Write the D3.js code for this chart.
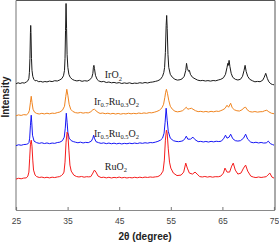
<!DOCTYPE html>
<html>
<head>
<meta charset="utf-8">
<script src="https://cdn.jsdelivr.net/npm/d3@7"></script>
<style>
  body { margin: 0; background: #fff; }
  svg { display: block; }
  .tick-label { font-family: "Liberation Sans", Arial, sans-serif; font-size: 8.5px; fill: #444; }
  .axis-title { font-family: "Liberation Sans", Arial, sans-serif; font-size: 10px; font-weight: bold; fill: #222; }
  .trace-label { font-family: "Liberation Serif", "Times New Roman", serif; font-size: 10px; fill: #222; }
</style>
</head>
<body>
<svg id="chart" width="279" height="243"></svg>
<script>
// x ticks (2 theta, degrees)
const xTicks = [25, 35, 45, 55, 65, 75];

// traces: [2theta, intensity a.u. incl. vertical offset]
const irO2 = [
  [25.0,126.5],[25.4,127.5],[25.8,126.8],[26.2,127.6],[26.6,127.2],[27.0,128.3],[27.3,129.5],[27.5,132],
  [27.6,138],[27.7,152],[27.8,178],[27.85,185],[27.9,178],[28.0,152],[28.1,140],[28.25,134],[28.45,131],[28.7,129.5],
  [29.0,129.8],[29.4,128.6],[29.8,128.9],[30.2,128.2],[30.6,128.8],[31.0,128.4],[31.5,129.2],[32.0,128.7],
  [32.5,129.6],[33.0,129.3],[33.5,130.4],[33.9,131.8],[34.2,134.5],[34.4,140],[34.5,152],[34.6,180],
  [34.7,207],[34.8,182],[34.9,156],[35.05,143],[35.25,136],[35.5,133],[35.9,131],[36.3,130],
  [36.8,129.4],[37.3,129.9],[37.8,129],[38.3,129.6],[38.8,129.2],[39.3,130.5],[39.7,133],[39.9,137],
  [40.0,143],[40.1,145],[40.2,142],[40.4,135],[40.7,131],[41.0,129.5],[41.5,128.5],[42.0,128.9],
  [42.5,127.8],[43.0,128.3],[43.5,127.5],[44.0,127.9],[44.5,127.2],[45.0,127.7],[45.5,126.8],[46.0,127.4],
  [46.5,126.9],[47.0,127.5],[47.5,126.7],[48.0,127.2],[48.5,126.9],[49.0,127.6],[49.5,127.1],[50.0,127.8],
  [50.5,127.3],[51.0,128.0],[51.5,128.3],[52.0,128.9],[52.5,129.6],[53.0,131],[53.4,134],[53.65,138],
  [53.8,143],[53.95,158],[54.1,185],[54.2,195],[54.3,182],[54.45,156],[54.6,143],[54.9,136],[55.3,133],
  [55.8,131],[56.3,130.2],[56.8,130.6],[57.2,131.5],[57.6,134],[57.9,140],[58.05,147],[58.2,142],
  [58.45,139],[58.6,140],[58.8,136],[59.2,133],[59.7,131.5],[60.2,130.2],[60.7,129.6],[61.2,129.9],
  [61.7,129.3],[62.2,129.7],[62.7,129.2],[63.2,129.8],[63.7,129.5],[64.2,130.3],[64.7,131],[65.2,132.5],
  [65.6,136],[65.9,143],[66.05,147],[66.15,145],[66.3,150],[66.45,144],[66.7,137],[67.0,133],
  [67.5,131],[68.0,130.3],[68.5,131],[68.9,134],[69.2,140],[69.4,145],[69.6,139],[69.9,134],
  [70.3,131],[70.8,129.6],[71.3,128.5],[71.8,128.9],[72.3,128.6],[72.8,130],[73.1,133],[73.4,137],
  [73.7,132],[74.0,128.5],[74.4,126.5],[74.7,125.8],[75.0,125.5]
];

const ir07Ru03O2 = [
  [25.0,94.5],[25.5,95.3],[26.0,94.8],[26.5,95.6],[27.0,95.3],[27.4,97],[27.6,100],[27.8,108],
  [27.95,114],[28.1,108],[28.3,101],[28.6,98],[29.0,96.8],[29.5,96.2],[30.0,96.9],[30.5,96.3],
  [31.0,97],[31.5,96.4],[32.0,97.1],[32.5,96.8],[33.0,97.6],[33.5,98.2],[34.0,100],[34.4,104],
  [34.65,114],[34.85,121],[35.05,115],[35.3,106],[35.6,101],[36.0,98.8],[36.5,97.6],[37.0,97.2],
  [37.5,97.8],[38.0,97.1],[38.5,97.6],[39.0,97.3],[39.5,98.5],[39.9,100.5],[40.2,101],[40.5,99.5],
  [40.9,97.8],[41.3,96.8],[41.8,97.2],[42.3,96.5],[42.8,97],[43.3,96.3],[43.8,96.9],[44.3,96.2],
  [44.8,96.8],[45.3,96.1],[45.8,96.7],[46.3,96.3],[46.8,97],[47.3,96.4],[47.8,96.9],[48.3,96.5],
  [48.8,97.2],[49.3,96.7],[49.8,97.3],[50.3,96.9],[50.8,97.6],[51.3,97.4],[51.8,98],[52.3,98.8],
  [52.8,100],[53.3,102.5],[53.6,106],[53.85,113],[54.0,118],[54.15,121],[54.35,117],[54.6,110],
  [54.9,104],[55.3,101],[55.8,99],[56.3,98.4],[56.8,98.8],[57.3,99.6],[57.7,101.5],[58.0,103],
  [58.3,101],[58.6,101.5],[59.0,102],[59.3,101],[59.8,99.5],[60.3,98.6],[60.8,98.9],[61.3,98.3],
  [61.8,98.8],[62.3,98.2],[62.8,98.9],[63.3,98.4],[63.8,99.1],[64.3,98.8],[64.7,99.6],[65.1,100.5],
  [65.5,101.8],[65.9,105],[66.2,103],[66.6,107],[66.9,102.5],[67.3,100.5],[67.8,99.5],[68.3,99.2],
  [68.8,100.5],[69.2,102.5],[69.5,103],[69.8,100.5],[70.3,98.6],[70.8,98.2],[71.3,98.7],[71.8,98.1],
  [72.3,98.5],[72.8,98.6],[73.2,99.5],[73.6,100],[74.0,98.4],[74.5,97],[75.0,96.5]
];

const ir05Ru05O2 = [
  [25.0,64.5],[25.5,65.4],[26.0,64.9],[26.5,65.6],[27.0,65.8],[27.3,66.3],[27.5,67.5],[27.65,72],
  [27.8,85],[27.95,95],[28.05,88],[28.2,75],[28.5,69],[29.0,67.5],[29.5,66.8],[30.0,67.4],
  [30.5,66.6],[31.0,67.2],[31.5,66.5],[32.0,67.1],[32.5,66.8],[33.0,67.6],[33.5,68],[34.0,69.5],
  [34.35,73],[34.55,82],[34.75,97],[34.9,88],[35.05,78],[35.3,72],[35.7,69.5],[36.1,68.6],
  [36.5,68],[37.0,67.4],[37.5,68],[38.0,67.2],[38.5,67.8],[39.0,67.5],[39.6,69],[39.9,72],
  [40.05,75],[40.2,72],[40.5,68.5],[41.0,67.5],[41.5,66.8],[42.0,67.3],[42.5,66.5],[43.0,67.1],
  [43.5,66.4],[44.0,67],[44.5,66.3],[45.0,66.9],[45.5,66.2],[46.0,66.8],[46.5,66.4],[47.0,67],
  [47.5,66.5],[48.0,67.1],[48.5,66.6],[49.0,67.3],[49.5,66.8],[50.0,67.4],[50.5,67],[51.0,67.6],
  [51.5,67.4],[52.0,68],[52.5,68.8],[53.0,70],[53.4,72],[53.7,77],[53.9,88],[54.1,102],
  [54.3,90],[54.5,79],[54.9,72],[55.5,69.5],[56.0,68.8],[56.5,68.5],[57.0,68.9],[57.4,69.5],
  [57.8,72],[58.0,74],[58.3,71],[58.8,71],[59.3,73],[59.7,70.5],[60.3,68.5],[60.8,68.8],
  [61.3,68.2],[61.8,68.7],[62.3,68.1],[62.8,68.8],[63.3,68.3],[63.8,68.9],[64.3,68.6],[64.8,69],
  [65.3,72],[65.6,75],[65.9,72],[66.3,73],[66.6,76],[67.0,71.5],[67.5,69.5],[68.0,69.1],
  [68.5,69.5],[69.1,72],[69.5,76],[69.9,71],[70.5,68],[71.0,67.4],[71.5,67.9],[72.0,67.2],
  [72.5,67.7],[73.0,67.1],[73.5,67.3],[73.9,69],[74.3,66.5],[74.7,65.6],[75.0,65]
];

const ruO2 = [
  [25.0,31],[25.5,31.8],[26.0,31.3],[26.5,32],[27.0,32.2],[27.3,34],[27.5,38],[27.65,52],
  [27.8,66],[27.95,70],[28.1,64],[28.25,50],[28.4,40],[28.7,35],[29.0,33.5],[29.5,32.6],[30.0,33],[30.5,32.3],
  [31.0,32.8],[31.5,32.2],[32.0,32.9],[32.5,32.5],[33.0,33.1],[33.4,33.4],[33.8,34.5],[34.1,36],
  [34.3,38],[34.5,48],[34.7,68],[34.9,78],[35.05,76],[35.25,60],[35.45,45],[35.7,39],[36.2,35],[36.7,33.6],
  [37.2,33.1],[37.7,33.6],[38.2,32.9],[38.7,33.4],[39.1,33.2],[39.5,33.5],[39.9,37],[40.2,40],
  [40.5,38],[40.9,34],[41.5,32.5],[42.0,32.9],[42.5,32.2],[43.0,32.8],[43.5,32.1],[44.0,32.7],
  [44.5,32.3],[45.0,33],[45.5,32.2],[46.0,32.7],[46.5,32.1],[47.0,32.6],[47.5,32.2],[48.0,32.8],
  [48.5,32.3],[49.0,32.9],[49.5,32.4],[50.0,33],[50.5,32.6],[51.0,33.1],[51.5,32.8],[52.0,33.2],
  [52.5,33.5],[53.0,35],[53.5,39],[53.75,50],[53.95,70],[54.15,80],[54.3,77],[54.5,62],
  [54.75,48],[55.0,42],[55.5,37],[56.2,34.5],[57.0,35],[57.5,38],[57.9,47],[58.2,42],[58.6,37],
  [59.2,36],[59.7,38],[60.1,36],[60.6,33.5],[61.1,33.1],[61.6,33.6],[62.1,33],[62.6,33.5],
  [63.1,32.9],[63.6,33.4],[64.2,33.3],[64.7,34],[65.2,37],[65.5,42],[65.9,38],[66.4,38],
  [66.8,44],[67.1,47],[67.5,40],[68.0,36],[68.6,37],[69.1,42],[69.5,45],[69.9,39],
  [70.5,34],[71.0,33],[71.5,32.5],[72.0,33.1],[72.5,32.6],[73.0,33],[73.5,33.4],[73.8,35],
  [74.2,37],[74.6,33],[75.0,32]
];

const series = [
  { name: "IrO2", data: irO2, color: "#1a1a1a", label: [["Ir"], ["O"], ["2", 1]], lx: 42.2, ly: 132 },
  { name: "Ir0.7Ru0.3O2", data: ir07Ru03O2, color: "#f0841f", label: [["Ir"], ["0.7", 1], ["Ru"], ["0.3", 1], ["O"], ["2", 1]], lx: 40.1, ly: 105 },
  { name: "Ir0.5Ru0.5O2", data: ir05Ru05O2, color: "#1616f5", label: [["Ir"], ["0.5", 1], ["Ru"], ["0.5", 1], ["O"], ["2", 1]], lx: 40.1, ly: 73 },
  { name: "RuO2", data: ruO2, color: "#f51c1c", label: [["Ru"], ["O"], ["2", 1]], lx: 42.2, ly: 40 }
];

const svg = d3.select("#chart");
const plotL = 16, plotR = 274, plotT = 0.5, plotB = 210;

const x = d3.scaleLinear().domain([25, 75]).range([plotL, plotR]);
const y = d3.scaleLinear().domain([0, 210]).range([plotB, plotT]);

// frame
svg.append("line").attr("x1", plotL).attr("x2", plotR + 1).attr("y1", plotT).attr("y2", plotT)
  .attr("stroke", "#555").attr("stroke-width", 1);
svg.append("line").attr("x1", plotR + 1).attr("x2", plotR + 1).attr("y1", plotT).attr("y2", plotB)
  .attr("stroke", "#555").attr("stroke-width", 1);
svg.append("line").attr("x1", plotL).attr("x2", plotL).attr("y1", plotT).attr("y2", plotB)
  .attr("stroke", "#8a8a8a").attr("stroke-width", 1.2);

// bottom axis, ticks pointing inward
const xAxis = d3.axisBottom(x).tickValues(xTicks).tickSize(-3).tickPadding(8);
const gx = svg.append("g").attr("transform", `translate(0,${plotB})`).call(xAxis);
gx.select(".domain").attr("stroke", "#8a8a8a").attr("stroke-width", 1.2);
gx.selectAll(".tick line").attr("stroke", "#777");
gx.selectAll(".tick text").attr("class", "tick-label").attr("fill", null).attr("font-size", null).attr("font-family", null);

svg.append("text").attr("class", "axis-title")
  .attr("x", (plotL + plotR) / 2).attr("y", 240)
  .attr("text-anchor", "middle").text("2θ (degree)");

svg.append("text").attr("class", "axis-title")
  .attr("transform", `translate(8.5,${97}) rotate(-90)`)
  .attr("text-anchor", "middle").text("Intensity");

// traces
const line = d3.line().x(d => x(d[0])).y(d => y(d[1]));
svg.append("g").selectAll("path").data(series).join("path")
  .attr("d", d => line(d.data))
  .attr("fill", "none")
  .attr("stroke", d => d.color)
  .attr("stroke-width", 1)
  .attr("stroke-linejoin", "round");

// trace labels with subscripts
series.forEach(s => {
  const t = svg.append("text").attr("class", "trace-label")
    .attr("x", x(s.lx)).attr("y", y(s.ly));
  let down = false;
  s.label.forEach(([str, sub]) => {
    const ts = t.append("tspan").text(str);
    if (sub && !down) { ts.attr("dy", 2.2).attr("font-size", "6.5px"); down = true; }
    else if (!sub && down) { ts.attr("dy", -2.2); down = false; }
    else if (sub) ts.attr("font-size", "6.5px");
  });
});
</script>
</body>
</html>
